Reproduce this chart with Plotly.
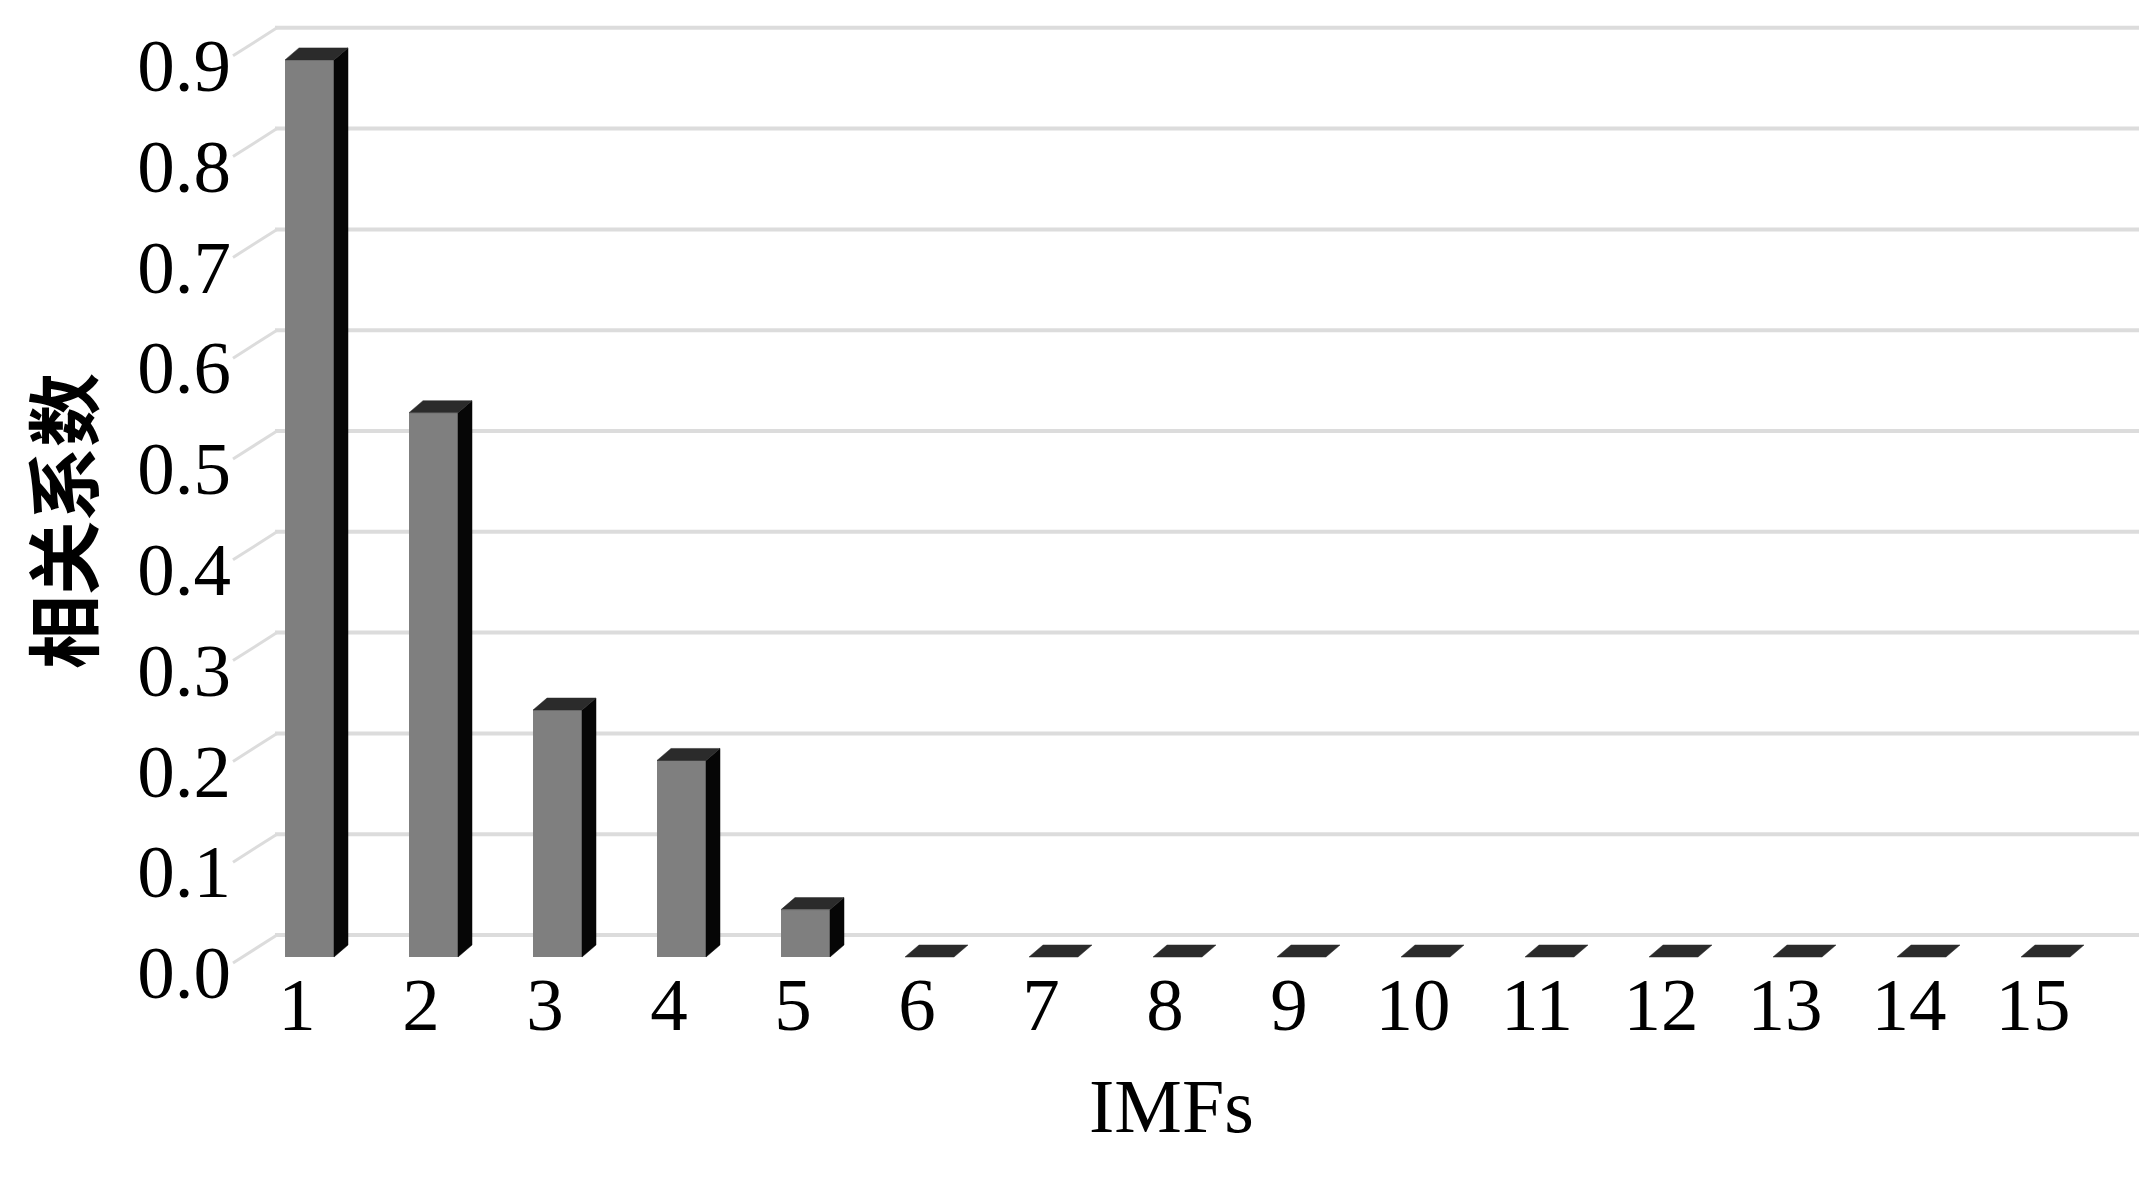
import plotly.graph_objects as go

# ---------------- data ----------------
categories = list(range(1, 16))
tick_labels = [str(c) for c in categories]
corr_values = [0.89, 0.54, 0.245, 0.195, 0.047, 0, 0, 0, 0, 0, 0, 0, 0, 0, 0]
y_ticks = [0.0, 0.1, 0.2, 0.3, 0.4, 0.5, 0.6, 0.7, 0.8, 0.9]
y_tick_text = ["0.0", "0.1", "0.2", "0.3", "0.4", "0.5", "0.6", "0.7", "0.8", "0.9"]
x_title = "IMFs"
y_title = "相关系数"

# ---------------- geometry ----------------
# target positions are given in screen pixels; the page body has an 8px margin
SCREEN_W, SCREEN_H = 2149, 1190
PAGE_OFF = 8
W, H = SCREEN_W - 2 * PAGE_OFF - 2, SCREEN_H - 2 * PAGE_OFF - 2


def sx(px):  # screen x -> figure x
    return px - PAGE_OFF


def sy(py):  # screen y -> figure y
    return py - PAGE_OFF


L = sx(232)
T = sy(18)
PLOT_BOTTOM = sy(976)
R = 0
B = H - PLOT_BOTTOM
PW = W - L - R
PH = PLOT_BOTTOM - T

PX_CAT1 = sx(297.0)   # category 1 (tick label centre)
PX_STEP = 124.0       # pixels per category
K = 1008.0            # pixels per unit of correlation
BASE_BAR = sy(957.0)  # value 0 for the bars' front face
BASE_LBL = sy(972.0)  # value 0 for tick labels (front plane)
BASE_WALL = sy(935.0) # value 0 on the back wall


def px_to_x(px):
    return 1 + (px - PX_CAT1) / PX_STEP


x_range = [px_to_x(L), px_to_x(W - R)]
y2_range = [-(PLOT_BOTTOM - BASE_BAR) / K, (BASE_BAR - T) / K]
y_range = [-(PLOT_BOTTOM - BASE_LBL) / K, (BASE_LBL - T) / K]

bar_offset = -12 / PX_STEP
bar_width = 49 / PX_STEP
depth_dx = 14 / PX_STEP
depth_dy = 12 / K
wall_dy = (BASE_BAR - BASE_WALL) / K

FRONT = "#7f7f7f"
SIDE = "#060606"
TOP = "#2b2b2b"
GRID = "#dcdcdc"
SERIF = "Liberation Serif, Times New Roman, serif"

fig = go.Figure()

# front faces of the columns
fig.add_trace(go.Bar(
    x=categories, y=corr_values, offset=bar_offset, width=bar_width,
    marker=dict(color=FRONT, line=dict(width=0)),
    xaxis="x", yaxis="y2", hoverinfo="skip", showlegend=False,
))

# side and top faces (pseudo 3D), computed from values
side_x, side_y, top_x, top_y = [], [], [], []
for c, v in zip(categories, corr_values):
    x0 = c + bar_offset
    x1 = x0 + bar_width
    if v > 0:
        side_x += [x1, x1, x1 + depth_dx, x1 + depth_dx, x1, None]
        side_y += [0, v, v + depth_dy, depth_dy, 0, None]
    top_x += [x0, x1, x1 + depth_dx, x0 + depth_dx, x0, None]
    top_y += [v, v, v + depth_dy, v + depth_dy, v, None]

fig.add_trace(go.Scatter(
    x=side_x, y=side_y, mode="lines", fill="toself", fillcolor=SIDE,
    line=dict(color=SIDE, width=0.5), xaxis="x", yaxis="y2",
    hoverinfo="skip", showlegend=False,
))
fig.add_trace(go.Scatter(
    x=top_x, y=top_y, mode="lines", fill="toself", fillcolor=TOP,
    line=dict(color=TOP, width=0.5), xaxis="x", yaxis="y2",
    hoverinfo="skip", showlegend=False,
))
# invisible trace so that the label axis (front plane) is rendered
fig.add_trace(go.Scatter(
    x=[categories[0]], y=[y_ticks[0]], mode="markers", marker=dict(opacity=0),
    xaxis="x", yaxis="y", hoverinfo="skip", showlegend=False,
))

# back wall gridlines and slanted connectors to the front plane
shapes = []
for v in y_ticks:
    shapes.append(dict(
        type="line", xref="x", yref="y2", layer="below",
        x0=px_to_x(sx(275)), x1=px_to_x(sx(2145)), y0=v + wall_dy, y1=v + wall_dy,
        line=dict(color=GRID, width=4),
    ))
    shapes.append(dict(
        type="line", xref="x", yref="y2", layer="below",
        x0=px_to_x(sx(233)), x1=px_to_x(sx(277)), y0=v - 6 / K, y1=v + wall_dy,
        line=dict(color=GRID, width=3),
    ))

annotations = [
    dict(text=y_title, xref="paper", yref="paper",
         x=(sx(59) - L) / PW, y=(PLOT_BOTTOM - sy(521)) / PH,
         xanchor="center", yanchor="middle", textangle=-90, showarrow=False,
         font=dict(family="Noto Sans CJK SC", size=74, color="black", weight="bold")),
    dict(text=x_title, xref="paper", yref="paper",
         x=(sx(1171) - L) / PW, y=(PLOT_BOTTOM - sy(1106)) / PH,
         xanchor="center", yanchor="middle", showarrow=False,
         font=dict(family=SERIF, size=76, color="black")),
]

fig.update_layout(
    width=W, height=H,
    margin=dict(l=L, r=R, t=T, b=B, autoexpand=False),
    paper_bgcolor="white", plot_bgcolor="white",
    showlegend=False, bargap=0,
    shapes=shapes, annotations=annotations,
    xaxis=dict(
        range=x_range, tickmode="array", tickvals=categories, ticktext=tick_labels,
        showgrid=False, zeroline=False, showline=False, ticks="",
        ticklabelstandoff=-22,
        tickfont=dict(family=SERIF, size=75, color="black"),
    ),
    yaxis=dict(
        range=y_range, tickmode="array", tickvals=y_ticks, ticktext=y_tick_text,
        showgrid=False, zeroline=False, showline=False, ticks="",
        tickfont=dict(family=SERIF, size=75, color="black"),
    ),
    yaxis2=dict(
        range=y2_range, overlaying="y", side="left", showgrid=False,
        zeroline=False, showline=False, showticklabels=False, ticks="",
    ),
)

fig.write_html("out.html")
